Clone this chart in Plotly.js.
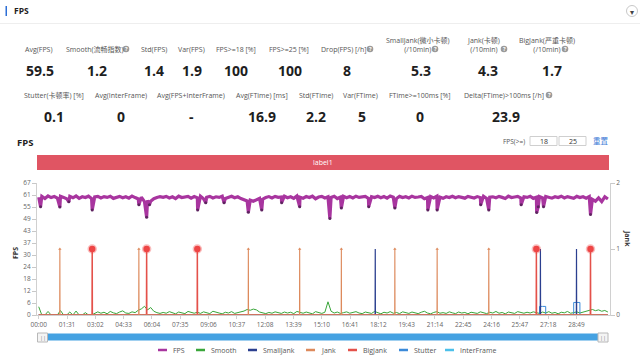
<!DOCTYPE html>
<html><head><meta charset="utf-8">
<script src="https://cdn.plot.ly/plotly-3.0.1.min.js"></script>
<style>html,body{margin:0;padding:0;background:#fff;}#chart{width:640px;height:357px;}</style>
</head><body><div id="chart"></div>
<script>
// ---------------- DATA ----------------
const timeLabels = ["00:00","01:31","03:02","04:33","06:04","07:35","09:06","10:37","12:08","13:39","15:10","16:41","18:12","19:43","21:14","22:45","24:16","25:47","27:18","28:49"];
const leftTickLabels = ["0","6","12","18","24","30","37","43","49","55","61","67"];
const leftMax = 67;
const rightTickLabels = ["0","1","2"];
const sampleStep = 10; // seconds between samples

const fpsValues = [
59.8,60.2,59.1,60.4,59.6,60.1,59.3,60.3,59.7,59.0,60.2,59.5,60.4,59.2,60.0,59.6,60.3,59.1,59.9,60.2,
59.4,60.1,59.7,60.3,59.2,59.9,60.2,59.5,60.0,59.3,60.4,59.6,58.9,59.8,57.6,58.2,57.8,59.0,59.6,60.1,
59.7,60.2,59.4,60.0,59.1,60.3,59.6,59.9,60.2,59.3,60.1,59.5,60.3,59.0,59.8,60.2,59.4,60.0,59.7,60.3,
59.2,59.9,60.3,59.5,60.0,59.1,58.4,57.9,58.3,57.7,58.6,59.2,58.8,59.6,60.1,59.4,60.2,59.7,59.9,60.3,
59.5,60.0,59.2,60.4,59.8,59.3,60.1,59.6,60.3,59.0,59.9,60.2,59.4,60.0,59.7,60.3,59.1,59.8,60.2,59.5,
60.1,59.4,60.3,59.7,59.9,60.2,59.2,60.0,59.6,60.3,59.5,60.1,59.3,60.4,59.8,59.1,60.2,59.6,60.0,59.4,
60.3,59.7,59.9,60.2,59.0,59.6,60.1,59.4,60.3,59.8,59.2,60.0,59.6,60.3,59.5,60.1,59.7,59.3,60.2,59.9,
59.4,60.1,59.6,60.3,59.2,59.8,60.0,59.5,60.2,59.7,59.1,60.3,59.6,59.9,60.2,59.4,60.0,59.7,60.3,59.2,
59.8,60.1,59.5,60.2,59.7,59.3,60.0,59.6,60.3,59.4,60.1,59.8,59.2,60.2,59.6,60.0,59.3,60.1,58.7,57.8,
59.4,57.6,60.0,58.9];
const fpsDipTimes  = [6,68,97,172,322,347,356,511,537,596,674,717,781,839,936,973,1061,1145,1251,1281,1421,1447,1551,1601,1606,1623,1774];
const fpsDipValues = [55,54.8,57.5,53.3,56,49.6,56,53.3,57,57,52.1,53.3,57,55,49,54.3,55,54.3,53.3,53.3,56,53.3,56,52,55,55,51];

const smoothValues = [
4.2,0,0,1.8,0,0,0,2.3,0,0,1.5,0,2.0,0,0,1.2,0,0,0.8,1.6,
0.9,1.4,0.6,1.8,1.1,0.7,1.5,2.1,1.0,0.8,1.6,1.2,2.4,3.1,4.4,2.6,3.8,1.9,1.2,0.8,
1.3,0.9,1.7,1.1,0.6,1.5,1.0,0.7,1.8,1.2,0.9,1.4,0.8,1.6,1.1,0.7,1.9,1.3,1.0,0.6,
1.4,1.0,1.7,0.8,1.2,1.6,2.0,2.8,2.4,3.0,2.6,1.5,1.1,0.7,1.3,0.9,1.6,1.2,0.8,1.5,
1.0,1.4,0.7,1.8,1.2,0.9,1.5,1.1,0.6,1.7,1.3,0.8,1.4,6.7,1.9,1.0,1.5,0.8,1.2,1.6,
0.9,1.3,1.7,1.0,0.7,1.5,1.2,0.8,1.8,1.1,0.6,1.4,1.0,1.7,0.9,1.3,0.7,1.6,1.2,0.8,
1.5,1.1,0.7,1.4,1.9,1.0,0.6,1.3,1.7,0.9,1.2,0.8,1.6,1.1,0.7,1.5,1.0,1.3,0.6,1.4,
1.1,0.8,1.6,1.2,0.7,1.4,1.0,1.8,0.9,1.3,0.6,1.5,1.1,0.8,1.7,1.2,0.9,1.4,1.0,1.6,
1.2,0.8,1.5,1.0,1.7,0.9,1.3,0.6,1.4,1.1,1.8,0.9,1.2,1.6,1.0,1.4,2.0,2.4,2.8,2.2,
2.6,1.9,2.3,1.5];

const jankTimes = [68,322,674,839,973,1145,1281,1447];
const jankCounts = [1,1,1,1,1,1,1,1];
const bigJankTimes = [172,347,510,1600,1774];
const bigJankCounts = [1,1,1,1,1];
const smallJankTimes = [1082,1613,1729];
const smallJankCounts = [1,1,1];
const stutterTimes = [1610,1620,1720,1730];
const stutterValues = [0.13,0.13,0.19,0.19];
const interFrameValue = 0;

const statLabels1 = ["Avg(FPS)","Smooth(流畅指数)","Std(FPS)","Var(FPS)","FPS>=18 [%]","FPS>=25 [%]","Drop(FPS) [/h]","SmallJank(微小卡顿)<br>(/10min)","Jank(卡顿)<br>(/10min)","BigJank(严重卡顿)<br>(/10min)"];
const statValues1 = ["59.5","1.2","1.4","1.9","100","100","8","5.3","4.3","1.7"];
const statLabels2 = ["Stutter(卡顿率) [%]","Avg(InterFrame)","Avg(FPS+InterFrame)","Avg(FTime) [ms]","Std(FTime)","Var(FTime)","FTime>=100ms [%]","Delta(FTime)>100ms [/h]"];
const statValues2 = ["0.1","0","-","16.9","2.2","5","0","23.9"];
const legendNames = ["FPS","Smooth","SmallJank","Jank","BigJank","Stutter","InterFrame"];
const thresholdValues = ["18","25"];

// ---------------- LAYOUT / STYLE ----------------
const FONT = "Open Sans, Noto Sans CJK SC, sans-serif";
const colors = {FPS:"#a8359f",Smooth:"#3aa63a",SmallJank:"#2b3f8f",Jank:"#dd8a5c",BigJank:"#e4514a",Stutter:"#3b8ad9",InterFrame:"#4cc0ea"};
const ML = 37, MR = 30, MT = 183, MB = 42, W = 640, H = 357;
const PW = W - ML - MR, PH = H - MT - MB;
const px2x = p => (p - ML) / PW;
const py2y = p => (H - MB - p) / PH;

const statLabelX1 = [39,94.5,154,191,236,289,343,417.5,483.5,547];
const statValueX1 = [39.5,97,154,192,236,289.5,347,421,487.5,552];
const statLabelX2 = [54,121,191,262,316,360.5,420,503.5];
const statValueX2 = [54,120.5,191,262,316,361.5,420,506.5];
const helpIcons = [[126,49],[370,49],[435,49],[504,49],[565,49],[549,95]];
const legendX = [158,196,248,306,348,399,445];

const toSec = s => { const p = s.split(":"); return (+p[0])*60 + (+p[1]); };
const tickVals = timeLabels.map(toSec);
const T = (fpsValues.length - 1) * sampleStep;
const gridT = fpsValues.map((v,i)=>i*sampleStep);

// FPS: samples + dips merged
const fpsPts = gridT.map((t,i)=>[t,fpsValues[i]]).concat(fpsDipTimes.map((t,i)=>[t,fpsDipValues[i]]));
fpsPts.sort((a,b)=>a[0]-b[0]);

function eventSeries(times, counts){
  const x=[0], y=[0];
  times.forEach((t,i)=>{ x.push(t-0.5,t,t+0.5); y.push(0,counts[i],0); });
  x.push(T); y.push(0);
  return {x,y};
}
const jankS = eventSeries(jankTimes, jankCounts);
const bigS = eventSeries(bigJankTimes, bigJankCounts);
const smallS = eventSeries(smallJankTimes, smallJankCounts);
const stutterS = gridT.map(t => { const k = stutterTimes.indexOf(t); return k>=0 ? stutterValues[k] : 0; });

const traces = [
  {x:gridT, y:gridT.map(()=>interFrameValue), mode:'lines', line:{color:colors.InterFrame,width:1}, name:'InterFrame'},
  {x:gridT, y:smoothValues, mode:'lines', line:{color:colors.Smooth,width:1}, name:'Smooth'},
  {x:fpsPts.map(p=>p[0]), y:fpsPts.map(p=>p[1]), mode:'lines', line:{color:colors.FPS,width:3.2}, name:'FPS'},
  {x:fpsDipTimes, y:fpsDipValues, mode:'markers', marker:{color:'#5e2460',size:3}, name:'FPS dips'},
  {x:gridT, y:stutterS, yaxis:'y2', mode:'lines', line:{color:colors.Stutter,width:1,shape:'hv'}, name:'Stutter'},
  {x:smallS.x, y:smallS.y, yaxis:'y2', mode:'lines', line:{color:colors.SmallJank,width:1.2}, name:'SmallJank'},
  {x:bigS.x, y:bigS.y, yaxis:'y2', mode:'lines', line:{color:colors.BigJank,width:1.5}, name:'BigJank'},
  {x:jankS.x, y:jankS.y, yaxis:'y2', mode:'lines', line:{color:colors.Jank,width:1.1}, name:'Jank'},
  {x:jankTimes, y:jankCounts, yaxis:'y2', mode:'markers', marker:{color:colors.Jank,size:3,symbol:'triangle-up'}, name:'Jank peak'},
  {x:bigJankTimes, y:bigJankCounts, yaxis:'y2', mode:'markers', marker:{color:'#ee4646',size:6.5,line:{color:'rgba(238,70,70,0.35)',width:3}}, name:'BigJank peak'},
];

const ann = [];
const shapes = [];
function txt(x, y, text, size, color, extra){
  return Object.assign({xref:'paper',yref:'paper',x:px2x(x),y:py2y(y),text:text,showarrow:false,
    font:{family:FONT,size:size,color:color},xanchor:'center',yanchor:'middle'}, extra||{});
}
function rect(x0,y0,x1,y1,fill,line,lw){
  return {type:'rect',xref:'paper',yref:'paper',x0:px2x(x0),x1:px2x(x1),y0:py2y(y0),y1:py2y(y1),
    fillcolor:fill,line:{color:line||fill,width:lw===undefined?0:lw},layer:'above'};
}
// header
shapes.push(rect(5.5,6,7,16,'#2d6fd6'));
ann.push(txt(12,11,'<b>FPS</b>',8.5,'#222',{xanchor:'left'}));
shapes.push({type:'line',xref:'paper',yref:'paper',x0:px2x(0),x1:px2x(640),y0:py2y(23.5),y1:py2y(23.5),line:{color:'#eeeeee',width:1}});
shapes.push({type:'circle',xref:'paper',yref:'paper',x0:px2x(626.5),x1:px2x(637.5),y0:py2y(5.5),y1:py2y(16.5),line:{color:'#c8c8c8',width:1},fillcolor:'#fff'});
ann.push(txt(632,11.3,'▾',8,'#444'));
// stats
statLabels1.forEach((l,i)=>{
  const two = l.indexOf('<br>')>=0;
  ann.push(txt(statLabelX1[i], two?44.5:49, l, 7, '#555'));
  ann.push(txt(statValueX1[i], 70.5, '<b>'+statValues1[i]+'</b>', 14, '#1e1e1e'));
});
statLabels2.forEach((l,i)=>{
  ann.push(txt(statLabelX2[i], 95.5, l, 7, '#555'));
  ann.push(txt(statValueX2[i], 116.5, '<b>'+statValues2[i]+'</b>', 14, '#1e1e1e'));
});
helpIcons.forEach(p=>{
  shapes.push({type:'circle',xref:'paper',yref:'paper',x0:px2x(p[0]-3.3),x1:px2x(p[0]+3.3),y0:py2y(p[1]-3.3),y1:py2y(p[1]+3.3),fillcolor:'#9a9a9a',line:{width:0}});
  ann.push(txt(p[0],p[1],'<b>?</b>',5.5,'#fff'));
});
// chart section title & threshold inputs
ann.push(txt(15,142,'<b>FPS</b>',9.5,'#222',{xanchor:'left'}));
ann.push(txt(527,141,'FPS(>=)',6.5,'#555',{xanchor:'right'}));
shapes.push(rect(530,136.5,557,145.5,'#fff','#cfcfcf',1));
shapes.push(rect(559,136.5,586,145.5,'#fff','#cfcfcf',1));
ann.push(txt(543.5,141,thresholdValues[0],7,'#333'));
ann.push(txt(572.5,141,thresholdValues[1],7,'#333'));
ann.push(txt(601,141,'重置',7.5,'#3a78d6'));
// label bar
shapes.push(rect(37,155,609,170,'#e05563'));
ann.push(txt(323,162.5,'label1',7,'#ffffff'));
// axis titles
ann.push(txt(15,253,'<b>FPS</b>',7,'#333',{textangle:-90}));
ann.push(txt(628,238,'<b>Jank</b>',7,'#333',{textangle:90}));
// slider
shapes.push(rect(44,333.5,603,340.5,'#45a2e2'));
shapes.push(rect(37.5,333,47.5,342,'#f4f4f4','#b8b8b8',1));
shapes.push(rect(598,333,608,342,'#f4f4f4','#b8b8b8',1));
ann.push(txt(42.5,337.5,'||',5.5,'#777'));
ann.push(txt(603,337.5,'||',5.5,'#777'));
// legend
legendNames.forEach((n,i)=>{
  const x0 = legendX[i];
  shapes.push({type:'line',xref:'paper',yref:'paper',x0:px2x(x0),x1:px2x(x0+9),y0:py2y(350),y1:py2y(350),line:{color:colors[n],width:2.5}});
  ann.push(txt(x0+13,350,n,7,'#555',{xanchor:'left'}));
});

const layout = {
  width:W, height:H, margin:{l:ML,r:MR,t:MT,b:MB,pad:0},
  paper_bgcolor:'#fff', plot_bgcolor:'#fff', showlegend:false, hovermode:false,
  font:{family:FONT,size:7,color:'#666'},
  xaxis:{range:[-5.5,1836.7],tickvals:tickVals,ticktext:timeLabels,showgrid:false,zeroline:false,
    showline:true,linecolor:'#d0d0d0',ticks:'outside',ticklen:3,tickcolor:'#d0d0d0',
    tickfont:{size:6.5,color:'#666'},fixedrange:true},
  yaxis:{range:[0,leftMax],tickvals:leftTickLabels.map((s,i)=>i*leftMax/(leftTickLabels.length-1)),ticktext:leftTickLabels,
    showgrid:false,zeroline:false,showline:true,linecolor:'#d0d0d0',ticks:'outside',ticklen:4,tickcolor:'#c8c8c8',
    tickfont:{size:6.5,color:'#666'}},
  yaxis2:{range:[0,2],overlaying:'y',side:'right',tickvals:rightTickLabels.map(Number),ticktext:rightTickLabels,
    showgrid:false,zeroline:false,showline:true,linecolor:'#d0d0d0',ticks:'outside',ticklen:4,tickcolor:'#c8c8c8',
    tickfont:{size:6.5,color:'#666'}},
  annotations:ann, shapes:shapes
};
Plotly.newPlot('chart', traces, layout, {displayModeBar:false, staticPlot:true});
</script></body></html>
